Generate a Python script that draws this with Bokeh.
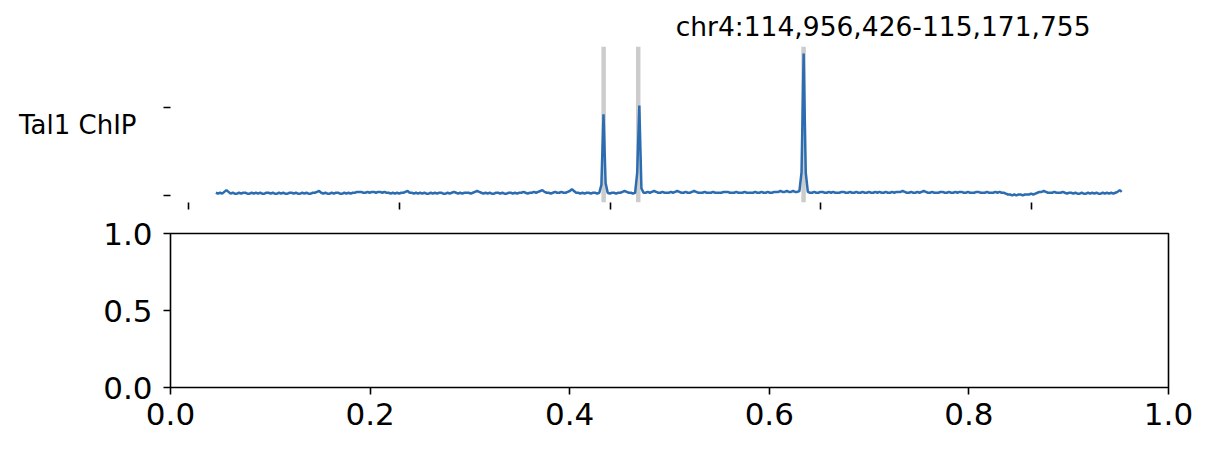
import numpy as np
from bokeh.plotting import figure
from bokeh.layouts import column
from bokeh.models import Range1d, FixedTicker, Span, Title, PrintfTickFormatter
from bokeh.embed import file_html
from bokeh.resources import INLINE

# ---------------- data ----------------
chrom = "chr4"
region_start = 114956426
region_end = 115171755
bin_size = 500
track_label = "Tal1 ChIP"

# Tal1 ChIP signal, one value per 500 bp bin starting at region_start
signal = [
    3,2,3,2,4,6,4,2,3,2,2,3,2,3,3,2,2,3,2,3,
    2,3,2,2,3,3,2,3,2,2,3,2,3,2,2,3,3,2,3,2,
    2,3,2,3,2,2,3,3,4,5,3,2,3,2,2,3,2,3,3,2,
    2,3,2,3,2,3,3,4,4,4,3,3,4,3,4,4,3,4,4,3,
    4,3,3,2,3,2,3,2,3,3,4,5,3,3,2,3,2,3,2,3,
    2,2,3,2,3,2,3,3,2,2,3,2,3,4,3,2,3,2,3,3,
    3,2,3,4,5,4,3,2,3,2,3,2,2,3,3,2,3,2,2,3,
    3,2,3,2,3,3,4,3,2,3,3,4,3,4,5,6,4,3,3,2,
    3,4,3,3,4,3,3,4,5,7,5,3,3,2,3,2,3,3,2,3,
    3,2,3,12,92,14,3,2,3,3,2,3,3,4,5,4,3,3,2,3,
    26,102,8,3,3,4,3,4,5,4,3,3,4,3,3,3,4,3,4,5,
    4,3,3,4,3,3,4,5,4,3,3,3,4,3,3,3,4,3,3,3,
    3,4,4,4,3,3,3,4,3,3,3,4,3,3,3,3,4,3,3,4,
    3,3,4,3,3,4,4,4,5,4,4,5,4,4,5,4,4,5,26,161,
    26,4,3,3,4,3,3,4,4,3,3,4,3,4,3,3,3,4,4,3,
    3,4,3,3,4,3,3,4,3,3,4,3,3,4,3,4,3,3,4,3,
    3,4,3,4,4,4,5,4,3,3,4,3,3,4,3,4,5,4,3,3,
    4,3,3,3,4,4,3,3,4,3,3,4,3,4,4,3,3,4,3,3,
    3,4,4,3,3,3,4,3,3,3,4,3,4,3,3,2,1,1,0,1,
    0,1,1,0,1,1,1,2,1,2,3,4,4,5,4,3,3,3,4,3,
    3,3,4,3,2,3,3,2,3,2,2,3,2,2,3,2,3,2,3,2,
    2,3,2,3,2,3,2,3,4,6,4,
]

# highlighted peak positions (grey vertical lines)
peak_positions = [115048459, 115056668, 115095909]

# tick positions
track_xticks = [114950000, 115000000, 115050000, 115100000, 115150000]
track_yticks = [0, 100]
bottom_xticks = [0.0, 0.2, 0.4, 0.6, 0.8, 1.0]
bottom_yticks = [0.0, 0.5, 1.0]

# ---------------- styles ----------------
FONT = "DejaVu Sans"
BLUE = "#2c6db2"
GREY = "#cccccc"

W = 1200
H1 = 212
H2 = 230
LEFT = 170
FRAME_W = 998
RIGHT = W - LEFT - FRAME_W

xs = region_start + bin_size * np.arange(len(signal))
ys = np.array(signal, dtype=float)

span_x = region_end - region_start
x0 = region_start - 0.05 * span_x
x1 = region_end + 0.05 * span_x
ymin, ymax = ys.min(), ys.max()
pad = 0.05 * (ymax - ymin)

# ---------------- top track ----------------
p1 = figure(width=W, height=H1, output_backend="svg", toolbar_location=None,
            x_range=Range1d(x0, x1), y_range=Range1d(ymin - pad, ymax + pad),
            min_border_left=LEFT, min_border_right=RIGHT,
            min_border_top=46, min_border_bottom=H1 - 46 - 156)
p1.outline_line_color = None
p1.grid.visible = False
p1.background_fill_color = "white"
p1.border_fill_color = "white"

for pos in peak_positions:
    p1.add_layout(Span(location=pos, dimension="height", line_color=GREY,
                       line_width=4.5, level="underlay"))
p1.line(xs, ys, line_color=BLUE, line_width=2.5)

t = Title(text=f"{chrom}:{region_start:,}-{region_end:,}", align="right",
          offset=78, text_font=FONT, text_font_size="26.5px",
          text_font_style="normal", text_color="black", standoff=9)
p1.add_layout(t, "above")

for ax in (p1.xaxis[0], p1.yaxis[0]):
    ax.axis_line_color = None
    ax.major_tick_line_color = "black"
    ax.major_tick_line_width = 1.6
    ax.major_tick_in = 0
    ax.major_tick_out = 7
    ax.minor_tick_line_color = None
    ax.major_label_standoff = 0
p1.xaxis[0].ticker = FixedTicker(ticks=track_xticks)
p1.xaxis[0].major_label_overrides = {v: "" for v in track_xticks}
p1.yaxis[0].ticker = FixedTicker(ticks=track_yticks)
p1.yaxis[0].major_label_overrides = {v: "" for v in track_yticks}
p1.yaxis[0].axis_label = track_label
p1.yaxis[0].axis_label_orientation = "horizontal"
p1.yaxis[0].axis_label_text_font = FONT
p1.yaxis[0].axis_label_text_font_size = "26px"
p1.yaxis[0].axis_label_text_font_style = "normal"
p1.yaxis[0].axis_label_text_color = "black"
p1.yaxis[0].axis_label_standoff = 27

# ---------------- bottom empty axes ----------------
p2 = figure(width=W, height=H2, output_backend="svg", toolbar_location=None,
            x_range=Range1d(0, 1), y_range=Range1d(0, 1),
            min_border_left=LEFT, min_border_right=RIGHT,
            min_border_top=233 - H1, min_border_bottom=H2 - (233 - H1) - 154)
p2.outline_line_color = "black"
p2.outline_line_width = 1.6
p2.grid.visible = False
p2.background_fill_color = "white"
p2.border_fill_color = "white"
for ax in (p2.xaxis[0], p2.yaxis[0]):
    ax.axis_line_color = None
    ax.major_tick_line_color = "black"
    ax.major_tick_line_width = 1.6
    ax.major_tick_in = 0
    ax.major_tick_out = 7
    ax.minor_tick_line_color = None
    ax.major_label_text_font = FONT
    ax.major_label_text_font_size = "31px"
    ax.major_label_text_color = "black"
    ax.formatter = PrintfTickFormatter(format="%.1f")
p2.xaxis[0].ticker = FixedTicker(ticks=bottom_xticks)
p2.yaxis[0].ticker = FixedTicker(ticks=bottom_yticks)
p2.xaxis[0].major_label_standoff = 8
p2.yaxis[0].major_label_standoff = 11

layout = column(p1, p2, spacing=0)
open("out.html", "w").write(file_html(layout, INLINE))
